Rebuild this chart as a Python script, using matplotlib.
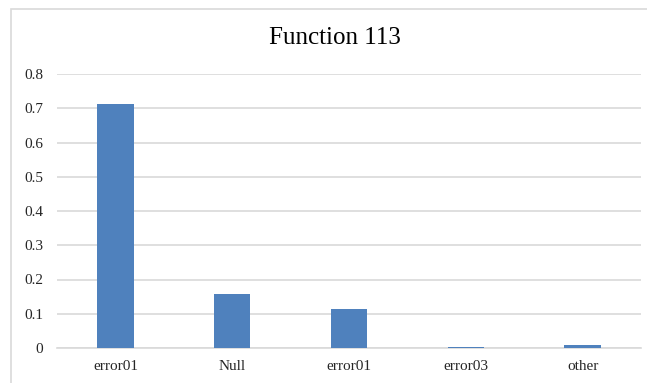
import matplotlib.pyplot as plt
from matplotlib.patches import Rectangle

categories = ['error01', 'Null', 'error01', 'error03', 'other']
values = [0.712, 0.158, 0.114, 0.003, 0.009]
yticks = [0, 0.1, 0.2, 0.3, 0.4, 0.5, 0.6, 0.7, 0.8]
ytick_labels = ['0', '0.1', '0.2', '0.3', '0.4', '0.5', '0.6', '0.7', '0.8']

plt.rcParams['font.family'] = ['Liberation Serif', 'DejaVu Serif']

W, H = 647, 383
fig = plt.figure(figsize=(W / 100, H / 100), dpi=100)

# chart area border (runs off the right and bottom edges)
fig.patches.append(Rectangle((11 / W, -0.1), 1.1, 1 - 9 / H + 0.1,
                             transform=fig.transFigure, fill=False,
                             edgecolor='#D9D9D9', linewidth=1.2))

ax = fig.add_axes([57 / W, 1 - 348 / H, (641 - 57) / W, (348 - 74) / H])
x = range(len(categories))
ax.bar(x, values, width=0.31, color='#4F81BD', zorder=3)

ax.set_xlim(-0.5, len(categories) - 0.5)
ax.set_ylim(0, 0.8)
ax.set_yticks(yticks)
ax.set_yticklabels(ytick_labels)
ax.set_xticks(list(x))
ax.set_xticklabels(categories)
ax.tick_params(axis='both', length=0, labelsize=11, colors='#262626')
ax.tick_params(axis='y', pad=10)
ax.tick_params(axis='x', pad=9)
ax.yaxis.grid(True, color='#D9D9D9', linewidth=1.2, zorder=0)
for s in ['top', 'right', 'left']:
    ax.spines[s].set_visible(False)
ax.spines['bottom'].set_color('#D9D9D9')
ax.spines['bottom'].set_linewidth(1.2)

fig.text(335 / W, 1 - 38 / H, 'Function 113', ha='center', va='center',
         fontsize=18, color='#000000')

fig.savefig('out.png', dpi=100)
